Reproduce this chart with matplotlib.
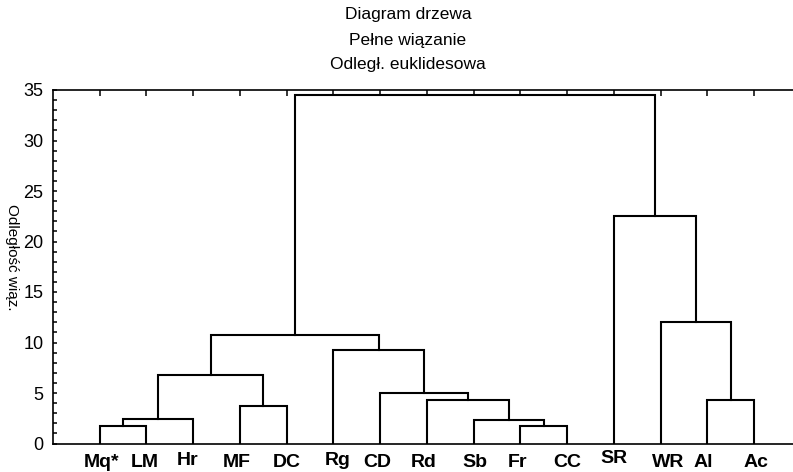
import numpy as np
import matplotlib
matplotlib.use("Agg")
import matplotlib.pyplot as plt
from matplotlib.ticker import MultipleLocator

plt.rcParams["font.family"] = ["Liberation Sans", "DejaVu Sans"]

# leaves in dendrogram order
leaves = ["Mq*", "LM", "Hr", "MF", "DC", "Rg", "CD", "Rd", "Sb", "Fr", "CC",
          "SR", "WR", "Al", "Ac"]

# complete-linkage merges: child a, child b, linkage distance
# (ids < 15 are leaves, new clusters get ids 15, 16, ...)
merge_a = [0, 9, 15, 8, 3, 7, 13, 6, 17, 5, 23, 12, 11, 25]
merge_b = [1, 10, 2, 16, 4, 18, 14, 20, 19, 22, 24, 21, 26, 27]
merge_h = [1.75, 1.75, 2.45, 2.35, 3.7, 4.35, 4.35, 5.0, 6.75, 9.25, 10.75,
           12.0, 22.5, 34.5]

# small per-label nudges in pixels (dx, dy)
label_dx = [2, -2, -6, -3, 0, 4, -3, -3, 1, -3, 0, 0, 7, -4, 2]
label_dy = [0, 0, 2, 0, 0, 2, 0, 0, 0, 0, 0, 4, 0, 0, 0]

fig = plt.figure(figsize=(7.93, 4.72), dpi=100)
ax = fig.add_axes([53 / 793, 1 - 443.5 / 472, 1 - 53 / 793, (443.5 - 90) / 472])

n = len(leaves)
xpos = {i: i + 1.0 for i in range(n)}
ypos = {i: 0.0 for i in range(n)}
for k, (a, b, h) in enumerate(zip(merge_a, merge_b, merge_h)):
    xa, xb = xpos[a], xpos[b]
    ax.plot([xa, xa, xb, xb], [ypos[a], h, h, ypos[b]], color="black",
            lw=1.5, solid_joinstyle="miter", solid_capstyle="projecting")
    xpos[n + k] = (xa + xb) / 2
    ypos[n + k] = h

ax.set_xlim(0, 15.83)
ax.set_ylim(0, 35)

for side in ("left", "bottom", "top"):
    ax.spines[side].set_linewidth(1.2)
ax.spines["right"].set_visible(False)

ax.yaxis.set_major_locator(MultipleLocator(5))
ax.yaxis.set_minor_locator(MultipleLocator(1))
ax.tick_params(axis="y", which="both", direction="in", length=3, width=1.1,
               labelsize=13, pad=7)
ax.set_xticks(np.arange(1, n + 1))
ax.tick_params(axis="x", direction="in", length=4, width=1.1, bottom=False,
               top=True, labelbottom=False)

for i, lab in enumerate(leaves):
    ax.annotate(lab, xy=(i + 1, 0), xycoords=("data", "axes fraction"),
                xytext=(label_dx[i], -23.5 + label_dy[i]),
                textcoords="offset pixels", ha="center", va="baseline",
                fontsize=14, fontweight="bold")

fig.text(12 / 793, 1 - 257 / 472, "Odległość wiąz.", rotation=-90,
         ha="center", va="center", fontsize=11)

for j, line in enumerate(["Diagram drzewa", "Pełne wiązanie",
                          "Odległ. euklidesowa"]):
    fig.text(408 / 793, 1 - (15 + 25 * j) / 472, line, ha="center",
             va="center", fontsize=12.5)

fig.savefig("out.png", dpi=100)
